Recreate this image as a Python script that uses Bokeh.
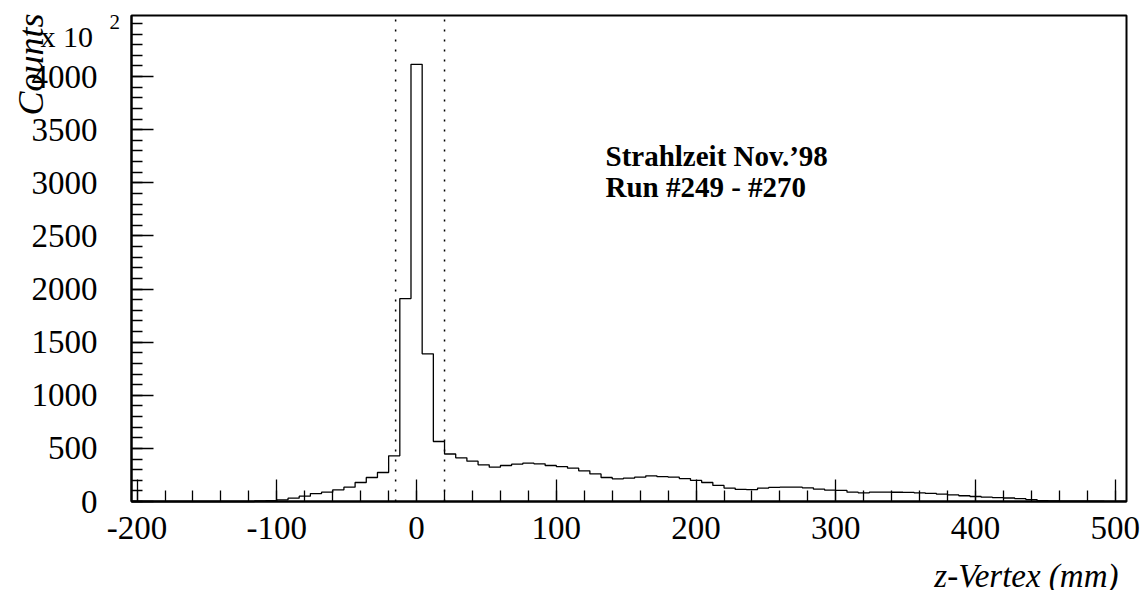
import numpy as np
from bokeh.plotting import figure
from bokeh.models import FixedTicker, Label, Range1d, LinearAxis, Grid
from bokeh.embed import file_html
from bokeh.resources import INLINE

# ---- data (counts x 10^2 per 8 mm bin) ----
bin_lo = -204.0
bin_width = 8.0
counts = [
    0, 0, 0, 0, 0, 0, 0, 0, 0, 0, 0,
    5, 8, 16, 31, 50, 75, 88, 110, 135, 179, 226, 273, 430,
    1910, 4115, 1390, 565, 447, 411, 380, 345, 323, 339, 351, 361, 355,
    339, 329, 314, 289, 260, 226, 213, 220, 229, 242, 234, 229, 216,
    198, 179, 151, 126, 114, 112, 126, 133, 135, 135, 129, 116, 107,
    104, 88, 82, 88, 88, 87, 86, 82, 76, 69, 62, 54, 47, 41, 37, 33,
    27, 18, 8, 5, 4, 4, 3, 3, 2, 2,
]
y_top = 4575
cut_lines = [-15, 20]
x_ticks = [-200, -100, 0, 100, 200, 300, 400, 500]
x_tick_labels = {-200: "-200", -100: "-100", 0: "0", 100: "100", 200: "200",
                 300: "300", 400: "400", 500: "500"}
x_minor = list(range(-200, 501, 20))
y_ticks = [0, 500, 1000, 1500, 2000, 2500, 3000, 3500, 4000]
y_minor = list(range(0, 4501, 100))
x_title = "z-Vertex (mm)"
y_title = "Counts"
y_exponent = ("x 10", "2")
note_lines = ["Strahlzeit Nov.\u201998", "Run #249 - #270"]

edges = bin_lo + bin_width * np.arange(len(counts) + 1)
x_lo, x_hi = edges[0], edges[-1]
xs = np.repeat(edges, 2)
ys = np.concatenate([[0], np.repeat(counts, 2), [0]])

W, H = 1142, 590
FONT = "Liberation Serif"

# pixel geometry of the histogram box inside the page
box_l, box_r, box_t, box_b = 131, 1126, 15, 501
sx = (box_r - box_l) / (x_hi - x_lo)
sy = (box_b - box_t) / y_top
xr = Range1d(x_lo - box_l / sx, x_hi + (W - box_r) / sx)
yr = Range1d(-(H - box_b) / sy, y_top + box_t / sy)


def px2x(px):
    return x_lo + (px - box_l) / sx


def py2y(py):
    return (box_b - py) / sy


p = figure(width=W, height=H, output_backend="svg", toolbar_location=None,
           x_range=xr, y_range=yr, x_axis_location=None, y_axis_location=None,
           min_border=0, min_border_left=0, min_border_right=0,
           min_border_top=0, min_border_bottom=0)
for g in p.select(type=Grid):
    g.visible = False
p.background_fill_color = "white"
p.border_fill_color = "white"
p.outline_line_color = None

# histogram box
p.quad(left=[x_lo], right=[x_hi], bottom=[0], top=[y_top], fill_color=None,
       line_color="black", line_width=2)

# histogram outline
p.line(xs, ys, line_color="black", line_width=1.3)

# cut lines
p.segment(x0=cut_lines, y0=[0] * len(cut_lines), x1=cut_lines,
          y1=[y_top] * len(cut_lines), line_color="black", line_width=1.5,
          line_dash="2 8")

xaxis = LinearAxis(fixed_location=0, bounds=(x_lo, x_hi),
                   ticker=FixedTicker(ticks=x_ticks, minor_ticks=x_minor),
                   major_label_overrides=x_tick_labels)
yaxis = LinearAxis(fixed_location=x_lo, bounds=(0, y_top),
                   ticker=FixedTicker(ticks=y_ticks, minor_ticks=y_minor))
for ax in (xaxis, yaxis):
    ax.axis_line_width = 2
    ax.axis_line_color = "black"
    ax.major_tick_out = 0
    ax.minor_tick_out = 0
    ax.major_tick_in = 22
    ax.minor_tick_in = 11
    ax.major_tick_line_width = 1.3
    ax.minor_tick_line_width = 1.3
    ax.major_label_text_font = FONT
    ax.major_label_text_font_size = "33px"
    ax.major_label_text_color = "black"
xaxis.major_label_standoff = 15
yaxis.major_label_standoff = 34
p.add_layout(xaxis, "below")
p.add_layout(yaxis, "left")

p.add_layout(Label(x=px2x(1118), y=py2y(575), text=x_title, text_align="right",
                   text_baseline="alphabetic", text_font=FONT, text_font_style="italic",
                   text_font_size="33px", text_color="black"))
p.add_layout(Label(x=px2x(30), y=py2y(13), text=y_title, angle=np.pi / 2,
                   text_align="right", text_baseline="alphabetic", text_font=FONT,
                   text_font_style="italic", text_font_size="36px", text_color="black"))
p.add_layout(Label(x=px2x(40), y=py2y(36), text=y_exponent[0], text_align="left",
                   text_baseline="alphabetic", text_font=FONT, text_font_size="30px",
                   text_color="black"))
p.add_layout(Label(x=px2x(109), y=py2y(21), text=y_exponent[1], text_align="left",
                   text_baseline="alphabetic", text_font=FONT, text_font_size="21px",
                   text_color="black"))
for i, t in enumerate(note_lines):
    p.add_layout(Label(x=px2x(605), y=py2y(155 + 31 * i), text=t, text_align="left",
                       text_baseline="alphabetic", text_font=FONT,
                       text_font_style="bold", text_font_size="29px",
                       text_color="black"))

open("out.html", "w").write(file_html(p, INLINE))
